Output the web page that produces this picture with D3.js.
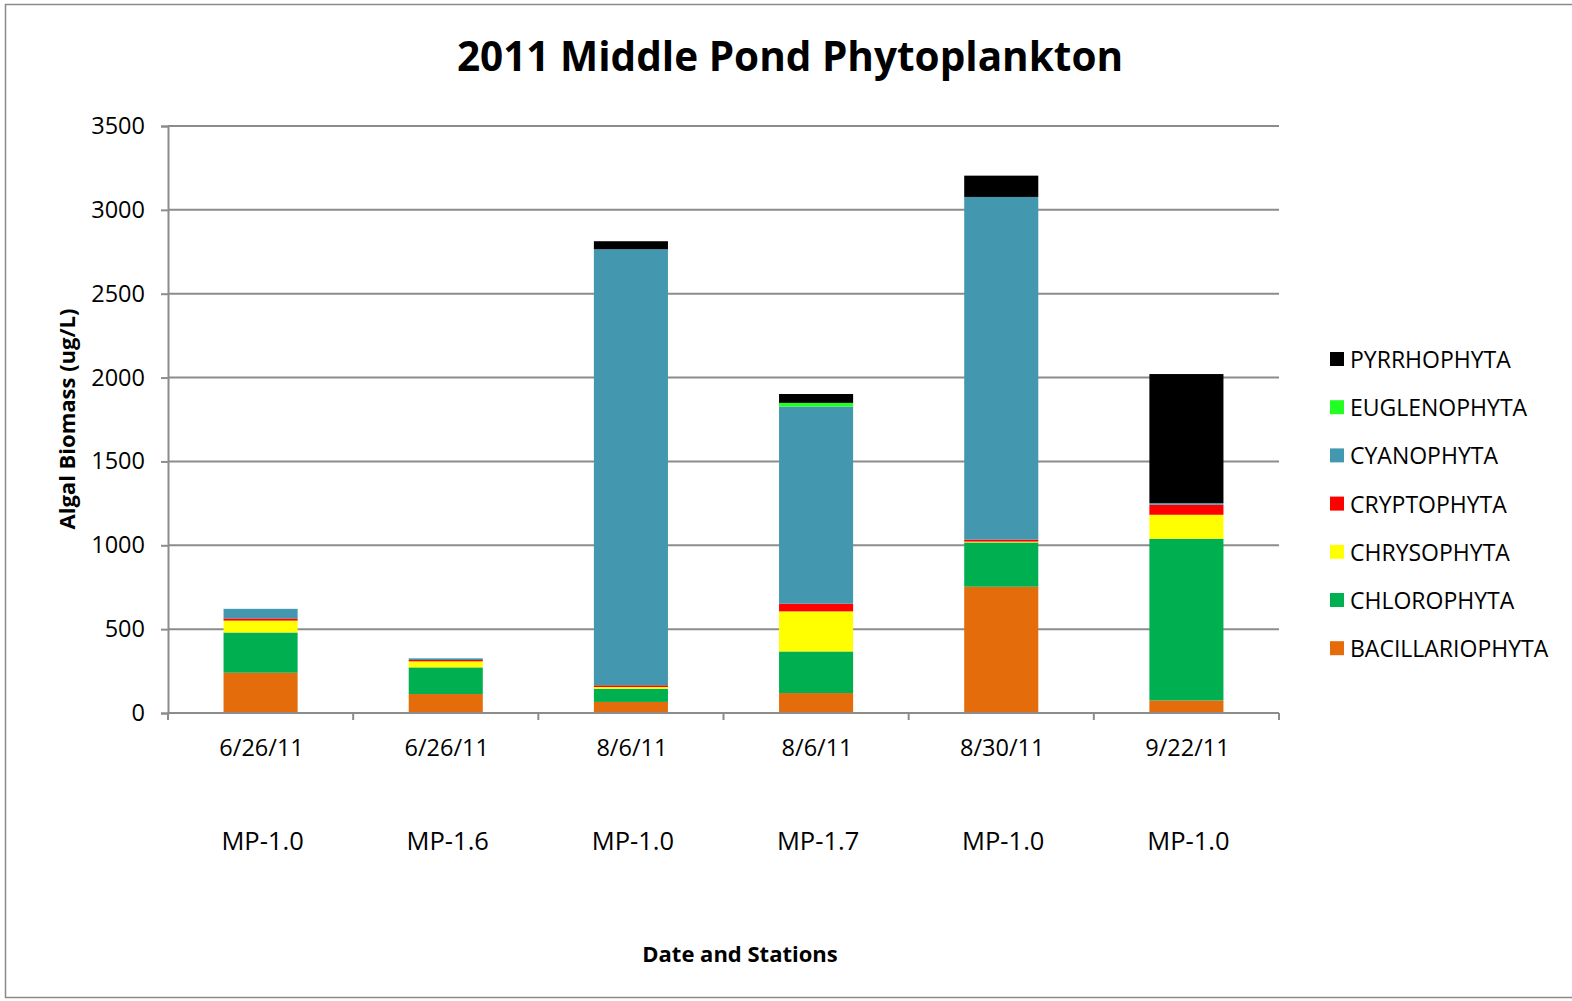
<!DOCTYPE html>
<html>
<head>
<meta charset="utf-8">
<script src="https://cdn.jsdelivr.net/npm/d3@7"></script>
<style>
  html, body { margin: 0; padding: 0; background: #fff; }
  svg { display: block; }
</style>
</head>
<body>
<svg id="chart" width="1572" height="1001"></svg>
<script>
// Sampling dates and stations
const dates = ["6/26/11", "6/26/11", "8/6/11", "8/6/11", "8/30/11", "9/22/11"];
const stations = ["MP-1.0", "MP-1.6", "MP-1.0", "MP-1.7", "MP-1.0", "MP-1.0"];

// Biomass per division (ug/L), stacked bottom to top
const bacillariophyta = [240, 113, 66, 119, 753, 75];
const chlorophyta     = [240, 159, 79, 248, 264, 964];
const chrysophyta     = [71, 36, 10, 239, 5, 143];
const cryptophyta     = [13, 8, 10, 46, 12, 60];
const cyanophyta      = [57, 10, 2600, 1175, 2043, 10];
const euglenophyta    = [0, 0, 0, 22, 0, 0];
const pyrrhophyta     = [0, 0, 48, 53, 127, 769];

const seriesNames = ["BACILLARIOPHYTA", "CHLOROPHYTA", "CHRYSOPHYTA", "CRYPTOPHYTA",
                     "CYANOPHYTA", "EUGLENOPHYTA", "PYRRHOPHYTA"];
const seriesValues = [bacillariophyta, chlorophyta, chrysophyta, cryptophyta,
                      cyanophyta, euglenophyta, pyrrhophyta];
const seriesColors = ["#E46C0A", "#00B050", "#FFFF00", "#FF0000",
                      "#4398B0", "#22FF22", "#000000"];
const yTicks = [0, 500, 1000, 1500, 2000, 2500, 3000, 3500];

const rows = dates.map((d, i) => {
  const r = { idx: i };
  seriesNames.forEach((s, k) => { r[s] = seriesValues[k][i]; });
  return r;
});

const svg = d3.select("#chart");
const font = "'Open Sans', 'Liberation Sans', sans-serif";

// Outer chart frame
svg.append("rect")
  .attr("x", 5.5).attr("y", 4.5).attr("width", 1600).attr("height", 993)
  .attr("fill", "none").attr("stroke", "#8a8a8a").attr("stroke-width", 1.5);

const plot = { left: 168, right: 1279, top: 126, bottom: 713 };

const x = d3.scaleBand()
  .domain(d3.range(dates.length))
  .range([plot.left, plot.right])
  .paddingInner(0.6).paddingOuter(0.3);

const xOuter = d3.scaleBand()
  .domain(d3.range(dates.length))
  .range([plot.left, plot.right]);

const y = d3.scaleLinear().domain([0, 3500]).range([plot.bottom, plot.top]);

// Horizontal gridlines
svg.append("g")
  .selectAll("line")
  .data(yTicks.filter(t => t > 0))
  .join("line")
  .attr("x1", plot.left).attr("x2", plot.right)
  .attr("y1", d => y(d)).attr("y2", d => y(d))
  .attr("stroke", "#8c8c8c").attr("stroke-width", 2);

// Stacked bars
const stack = d3.stack().keys(seriesNames);
const layers = stack(rows);

svg.append("g")
  .selectAll("g")
  .data(layers)
  .join("g")
  .attr("fill", (d, i) => seriesColors[i])
  .selectAll("rect")
  .data(d => d)
  .join("rect")
  .attr("x", d => x(d.data.idx))
  .attr("width", x.bandwidth())
  .attr("y", d => y(d[1]))
  .attr("height", d => Math.max(0, y(d[0]) - y(d[1])));

// Y axis
const yAxis = d3.axisLeft(y).tickValues(yTicks).tickSize(7).tickPadding(16)
  .tickFormat(d3.format("d"));
const gy = svg.append("g").attr("transform", `translate(${plot.left},0)`).call(yAxis);
gy.select(".domain").attr("stroke", "#8c8c8c").attr("stroke-width", 2);
gy.selectAll(".tick line").attr("stroke", "#8c8c8c").attr("stroke-width", 2);
gy.selectAll(".tick text")
  .attr("font-family", font).attr("font-size", 23.5).attr("fill", "#000");

// X axis: tick marks at category boundaries
const xAxisG = svg.append("g");
xAxisG.append("line")
  .attr("x1", plot.left).attr("x2", plot.right)
  .attr("y1", plot.bottom).attr("y2", plot.bottom)
  .attr("stroke", "#8c8c8c").attr("stroke-width", 2);
xAxisG.selectAll("line.tk")
  .data(d3.range(dates.length + 1))
  .join("line")
  .attr("class", "tk")
  .attr("x1", i => i < dates.length ? xOuter(i) : plot.right)
  .attr("x2", i => i < dates.length ? xOuter(i) : plot.right)
  .attr("y1", plot.bottom).attr("y2", plot.bottom + 7)
  .attr("stroke", "#8c8c8c").attr("stroke-width", 2);

// Category labels: date then station
xAxisG.selectAll("text.date")
  .data(dates)
  .join("text")
  .attr("class", "date")
  .attr("x", (d, i) => xOuter(i) + xOuter.bandwidth() / 2 + 1)
  .attr("y", 756)
  .attr("text-anchor", "middle")
  .attr("font-family", font).attr("font-size", 23.5)
  .text(d => d);

xAxisG.selectAll("text.station")
  .data(stations)
  .join("text")
  .attr("class", "station")
  .attr("x", (d, i) => xOuter(i) + xOuter.bandwidth() / 2 + 2)
  .attr("y", 850)
  .attr("text-anchor", "middle")
  .attr("font-family", font).attr("font-size", 25.5)
  .text(d => d);

// Titles
svg.append("text")
  .attr("x", 790).attr("y", 71)
  .attr("text-anchor", "middle")
  .attr("font-family", font).attr("font-weight", "bold").attr("font-size", 40.5)
  .text("2011 Middle Pond Phytoplankton");

svg.append("text")
  .attr("x", 740).attr("y", 962)
  .attr("text-anchor", "middle")
  .attr("font-family", font).attr("font-weight", "bold").attr("font-size", 22)
  .text("Date and Stations");

svg.append("text")
  .attr("transform", "translate(75,419) rotate(-90)")
  .attr("text-anchor", "middle")
  .attr("font-family", font).attr("font-weight", "bold").attr("font-size", 22)
  .text("Algal Biomass (ug/L)");

// Legend, top entry is the top of the stack
const legendOrder = d3.range(seriesNames.length).reverse();
const legend = svg.append("g").attr("transform", "translate(1330,352)");
const li = legend.selectAll("g")
  .data(legendOrder)
  .join("g")
  .attr("transform", (k, j) => `translate(0,${j * 48.2})`);
li.append("rect")
  .attr("width", 14).attr("height", 14)
  .attr("fill", k => seriesColors[k]);
li.append("text")
  .attr("x", 20).attr("y", 16)
  .attr("font-family", font).attr("font-size", 23)
  .text(k => seriesNames[k]);
</script>
</body>
</html>
